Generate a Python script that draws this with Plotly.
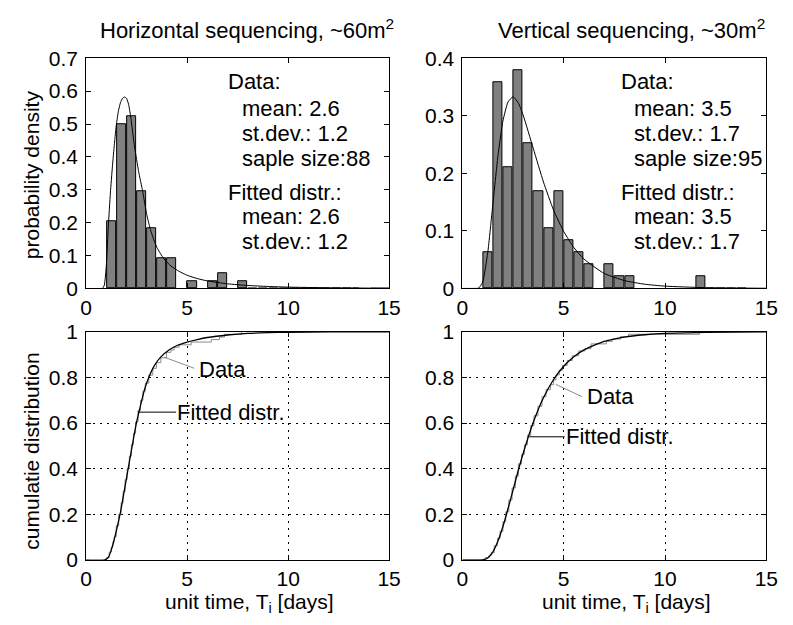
import plotly.graph_objects as go

W, H = 793, 625

# ---- Histogram data (bin width 0.5 days) ----
BIN_W = 0.5
h_centers = [1.25, 1.75, 2.25, 2.75, 3.25, 3.75, 4.25, 5.25, 6.25, 6.75, 7.75]
h_counts = [9, 22, 23, 13, 8, 4, 4, 1, 1, 2, 1]
h_n = 88

v_centers = [1.25, 1.75, 2.25, 2.75, 3.25, 3.75, 4.25, 4.75, 5.25, 5.75, 6.25,
             7.25, 7.75, 8.25, 11.75]
v_counts = [3, 17, 10, 18, 12, 8, 5, 8, 4, 3, 2, 2, 1, 1, 1]
v_n = 95

# empty bins drawn as outlines on the baseline
h_empty_x = [8.0, 13.5]
v_empty_x = [12.0, 14.0]
h_blue_x = [14.1, 15.0]

# ---- Fitted probability density ----
h_pdf_x = [0, 0.8, 0.9, 1.0, 1.1, 1.2, 1.3, 1.4, 1.5, 1.6, 1.7, 1.8, 1.9, 2.0, 2.1,
           2.2, 2.4, 2.6, 2.8, 3.0, 3.2, 3.5, 3.85, 4.2, 4.6, 5.0, 5.5, 6.0, 7.0,
           8.0, 9.0, 10, 12, 15]
h_pdf_y = [0, 0, 0.01, 0.07, 0.19, 0.29, 0.37, 0.44, 0.50, 0.54, 0.565, 0.578,
           0.582, 0.578, 0.56, 0.525, 0.43, 0.355, 0.295, 0.225, 0.175, 0.125,
           0.09, 0.068, 0.052, 0.04, 0.03, 0.023, 0.014, 0.009, 0.006, 0.004,
           0.002, 0.0005]

v_pdf_x = [0, 0.5, 0.8, 1.0, 1.25, 1.5, 1.75, 2.0, 2.25, 2.5, 2.75, 3.0, 3.5, 4.0,
           4.5, 5.0, 5.5, 6.0, 7.0, 8.0, 9.0, 10, 12, 15]
v_pdf_y = [0, 0, 0.0006, 0.011, 0.062, 0.145, 0.229, 0.291, 0.324, 0.333, 0.323,
           0.301, 0.243, 0.185, 0.136, 0.099, 0.071, 0.051, 0.026, 0.0136, 0.0073,
           0.004, 0.0013, 0.0003]

# ---- Fitted cumulative distribution ----
h_cdf_x = [0, 0.9, 1.1, 1.3, 1.5, 1.7, 1.9, 2.1, 2.3, 2.5, 2.7, 2.9, 3.1, 3.4, 3.7,
           4.1, 4.5, 5.0, 5.5, 6.0, 7.0, 8.0, 9.0, 10, 12, 15]
h_cdf_y = [0, 0, 0.012, 0.06, 0.13, 0.21, 0.31, 0.41, 0.51, 0.605, 0.68, 0.75,
           0.80, 0.855, 0.89, 0.92, 0.94, 0.955, 0.966, 0.975, 0.986, 0.993, 0.996,
           0.998, 0.9995, 1.0]

v_cdf_x = [0, 0.5, 1.0, 1.25, 1.5, 1.75, 2.0, 2.25, 2.5, 2.75, 3.0, 3.5, 4.0, 4.5,
           5.0, 5.5, 6.0, 7.0, 8.0, 9.0, 10, 12, 15]
v_cdf_y = [0, 0, 0.001, 0.009, 0.035, 0.082, 0.147, 0.225, 0.307, 0.390, 0.468,
           0.604, 0.711, 0.791, 0.849, 0.891, 0.921, 0.958, 0.977, 0.987, 0.993,
           0.9975, 0.9994]

# ---- Empirical cumulative distribution (stairs) ----
h_ecdf_x = [0, 1.0, 1.14, 1.24, 1.32, 1.39, 1.49, 1.61, 1.73, 1.83, 1.93, 2.03,
            2.14, 2.24, 2.34, 2.45, 2.57, 2.69, 2.81, 2.93, 3.1, 3.3, 3.48, 3.7,
            3.98, 4.2, 4.35, 4.6, 5.2, 6.2, 6.6, 6.85, 7.7]
h_ecdf_y = [0, 0.011, 0.034, 0.057, 0.08, 0.102, 0.15, 0.2, 0.25, 0.3, 0.352, 0.40,
            0.455, 0.505, 0.555, 0.605, 0.655, 0.70, 0.74, 0.775, 0.81, 0.84, 0.865,
            0.886, 0.91, 0.92, 0.932, 0.943, 0.955, 0.966, 0.977, 0.989, 1.0]

v_ecdf_x = [0, 1.14, 1.32, 1.42, 1.57, 1.73, 1.86, 2.0, 2.14, 2.29, 2.45, 2.61,
            2.76, 2.92, 3.06, 3.21, 3.37, 3.53, 3.73, 3.93, 4.13, 4.35, 4.5, 4.62,
            4.78, 4.95, 5.17, 5.42, 5.74, 6.05, 6.35, 7.1, 7.4, 7.8, 8.2, 11.7]
v_ecdf_y = [0, 0.011, 0.021, 0.032, 0.063, 0.095, 0.126, 0.168, 0.211, 0.263,
            0.316, 0.368, 0.421, 0.463, 0.505, 0.547, 0.589, 0.632, 0.674, 0.716,
            0.747, 0.768, 0.789, 0.811, 0.832, 0.853, 0.874, 0.895, 0.916, 0.926,
            0.947, 0.958, 0.968, 0.979, 0.989, 1.0]

# ---- Text ----
h_title = "Horizontal sequencing, ~60m<sup>2</sup>"
v_title = "Vertical sequencing, ~30m<sup>2</sup>"
h_info = ["Data:", "mean: 2.6", "st.dev.: 1.2", "saple size:88",
          "Fitted distr.:", "mean: 2.6", "st.dev.: 1.2"]
v_info = ["Data:", "mean: 3.5", "st.dev.: 1.7", "saple size:95",
          "Fitted distr.:", "mean: 3.5", "st.dev.: 1.7"]
pdf_ticks = {"h": [0, 0.1, 0.2, 0.3, 0.4, 0.5, 0.6, 0.7], "v": [0, 0.1, 0.2, 0.3, 0.4]}
cdf_ticks = [0, 0.2, 0.4, 0.6, 0.8, 1]
x_ticks = [0, 5, 10, 15]

FONT = "Liberation Sans, Arial, Helvetica, sans-serif"
FS = 22
TICK_FS = 21


def px(x):
    return x / W


def py(y):
    return 1 - y / H


fig = go.Figure()

bar_style = dict(marker=dict(color="#808080", line=dict(color="black", width=1)),
                 width=0.45, showlegend=False, hoverinfo="skip")

fig.add_trace(go.Bar(x=h_centers, y=[c / (h_n * BIN_W) for c in h_counts],
                     xaxis="x", yaxis="y", **bar_style))
fig.add_trace(go.Bar(x=v_centers, y=[c / (v_n * BIN_W) for c in v_counts],
                     xaxis="x2", yaxis="y2", **bar_style))

curve = dict(mode="lines", showlegend=False, hoverinfo="skip")
fig.add_trace(go.Scatter(x=h_empty_x, y=[0, 0], xaxis="x", yaxis="y",
                         line=dict(color="#444444", width=2.5, dash="9px,1.5px"),
                         cliponaxis=False, **curve))
fig.add_trace(go.Scatter(x=v_empty_x, y=[0, 0], xaxis="x2", yaxis="y2",
                         line=dict(color="#444444", width=2.5, dash="9px,1.5px"),
                         cliponaxis=False, **curve))
fig.add_trace(go.Scatter(x=h_blue_x, y=[0, 0], xaxis="x", yaxis="y",
                         line=dict(color="#2a4fd0", width=2), cliponaxis=False, **curve))

fig.add_trace(go.Scatter(x=h_pdf_x, y=h_pdf_y, xaxis="x", yaxis="y",
                         line=dict(color="black", width=1, shape="spline", smoothing=0.5),
                         **curve))
fig.add_trace(go.Scatter(x=v_pdf_x, y=v_pdf_y, xaxis="x2", yaxis="y2",
                         line=dict(color="black", width=1, shape="spline", smoothing=0.5),
                         **curve))

fig.add_trace(go.Scatter(x=h_ecdf_x, y=h_ecdf_y, xaxis="x3", yaxis="y3",
                         line=dict(color="#8a8a8a", width=1, shape="hv"), **curve))
fig.add_trace(go.Scatter(x=v_ecdf_x, y=v_ecdf_y, xaxis="x4", yaxis="y4",
                         line=dict(color="#8a8a8a", width=1, shape="hv"), **curve))
fig.add_trace(go.Scatter(x=h_cdf_x, y=h_cdf_y, xaxis="x3", yaxis="y3",
                         line=dict(color="black", width=1.3, shape="spline", smoothing=0.5),
                         **curve))
fig.add_trace(go.Scatter(x=v_cdf_x, y=v_cdf_y, xaxis="x4", yaxis="y4",
                         line=dict(color="black", width=1.3, shape="spline", smoothing=0.5),
                         **curve))

# panel geometry in pixels (left, right, top, bottom)
L1, R1 = 82, 392
L2, R2 = 467, 778
T1, B1 = 48, 287
T2, B2 = 332, 569

axis_common = dict(showline=True, linecolor="black", linewidth=1, mirror="ticks",
                   ticks="inside", ticklen=5, tickcolor="black", zeroline=False,
                   tickfont=dict(family=FONT, size=TICK_FS, color="black"),
                   fixedrange=True)
xstand = dict(ticklabelstandoff=0)
ystand = dict(ticklabelstandoff=3)

fig.update_layout(
    width=W, height=H, margin=dict(l=0, r=0, t=0, b=0),
    paper_bgcolor="white", plot_bgcolor="white", bargap=0, showlegend=False,
    font=dict(family=FONT, size=FS, color="black"),
)

fig.update_layout(
    xaxis=dict(domain=[px(L1), px(R1)], range=[0, 15], tickvals=x_ticks,
               anchor="y", showgrid=False, **xstand, **axis_common),
    yaxis=dict(domain=[py(B1), py(T1)], range=[0, 0.7], tickvals=pdf_ticks["h"],
               ticktext=[f"{t:g}" for t in pdf_ticks["h"]],
               anchor="x", showgrid=False, **ystand, **axis_common),
    xaxis2=dict(domain=[px(L2), px(R2)], range=[0, 15], tickvals=x_ticks,
                anchor="y2", showgrid=False, **xstand, **axis_common),
    yaxis2=dict(domain=[py(B1), py(T1)], range=[0, 0.4], tickvals=pdf_ticks["v"],
                ticktext=[f"{t:g}" for t in pdf_ticks["v"]],
                anchor="x2", showgrid=False, **ystand, **axis_common),
)
grid = dict(showgrid=True, gridcolor="black", gridwidth=1, griddash="2px,5px")
fig.update_layout(
    xaxis3=dict(domain=[px(L1), px(R1)], range=[0, 15], tickvals=x_ticks,
                anchor="y3", **grid, **xstand, **axis_common),
    yaxis3=dict(domain=[py(B2), py(T2)], range=[0, 1], tickvals=cdf_ticks,
                ticktext=[f"{t:g}" for t in cdf_ticks], anchor="x3", **grid,
                **ystand, **axis_common),
    xaxis4=dict(domain=[px(L2), px(R2)], range=[0, 15], tickvals=x_ticks,
                anchor="y4", **grid, **xstand, **axis_common),
    yaxis4=dict(domain=[py(B2), py(T2)], range=[0, 1], tickvals=cdf_ticks,
                ticktext=[f"{t:g}" for t in cdf_ticks], anchor="x4", **grid,
                **ystand, **axis_common),
)

ann = []


def text(x, y, s, **kw):
    d = dict(x=px(x), y=py(y), xref="paper", yref="paper", text=s, showarrow=False,
             font=dict(family=FONT, size=FS, color="black"), xanchor="center",
             yanchor="middle")
    d.update(kw)
    ann.append(d)


# panel titles and axis titles
text(247, 18, h_title)
text(640, 18, v_title)
text(26, 169, "probability density", textangle=-90,
     font=dict(family=FONT, size=21, color="black"))
text(26, 456, "cumulatie distribution", textangle=-90,
     font=dict(family=FONT, size=21, color="black"))
xlab = "unit time, T<sub>i</sub> [days]"
xlab_font = dict(family=FONT, size=21, color="black")
text((L1 + R1) / 2 + 12, 628, xlab, yanchor="bottom", borderpad=0, font=xlab_font)
text((L2 + R2) / 2 + 12, 628, xlab, yanchor="bottom", borderpad=0, font=xlab_font)

# statistics blocks
info_rows = [72, 100, 126, 152, 187, 212, 238]
indent = [False, True, True, True, False, True, True]
for lines, x0 in ((h_info, 225), (v_info, 627)):
    for s, y, ind in zip(lines, info_rows, indent):
        text(x0 + (14 if ind else 0), y, s, xanchor="left")


# labels inside the cumulative panels (data coordinates)
def dtext(xref, yref, x, y, s):
    ann.append(dict(x=x, y=y, xref=xref, yref=yref, text=s, showarrow=False,
                    font=dict(family=FONT, size=FS, color="black"),
                    xanchor="left", yanchor="middle"))


dtext("x3", "y3", 5.5, 0.835, "Data")
dtext("x3", "y3", 4.4, 0.648, "Fitted distr.")
dtext("x4", "y4", 6.05, 0.716, "Data")
dtext("x4", "y4", 5.0, 0.54, "Fitted distr.")

fig.update_layout(annotations=ann)

fig.update_layout(shapes=[
    dict(type="line", xref="x3", yref="y3", x0=3.86, y0=0.889, x1=5.35, y1=0.84,
         line=dict(color="#8a8a8a", width=1)),
    dict(type="line", xref="x3", yref="y3", x0=2.56, y0=0.648, x1=4.45, y1=0.648,
         line=dict(color="black", width=1)),
    dict(type="line", xref="x4", yref="y4", x0=4.6, y0=0.77, x1=5.9, y1=0.716,
         line=dict(color="#8a8a8a", width=1)),
    dict(type="line", xref="x4", yref="y4", x0=3.3, y0=0.54, x1=5.05, y1=0.54,
         line=dict(color="black", width=1)),
])

fig.write_html("out.html")
